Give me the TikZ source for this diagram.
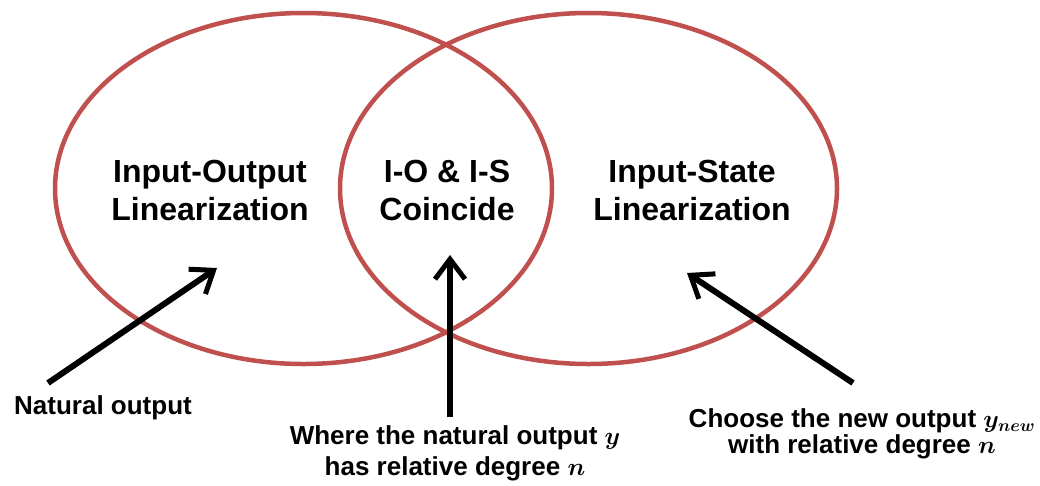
\documentclass[tikz,border=0pt]{standalone}
\usepackage{fontspec}
\setmainfont{Liberation Sans}
\usetikzlibrary{arrows.meta}
\definecolor{setred}{HTML}{C0504D}
\begin{document}
\begin{tikzpicture}[x=1pt,y=-1pt,
  setline/.style={draw=setred,line width=4.5pt},
  arr/.style={line width=6pt,-{Straight Barb[length=20pt,width=30pt,line width=5pt]}},
  lbl/.style={align=center,font=\bfseries\fontsize{32}{38}\selectfont,inner sep=0pt},
  note/.style={align=center,font=\bfseries\boldmath\fontsize{26}{31}\selectfont,inner sep=0pt}]
\useasboundingbox (0,0) rectangle (1040,485);
% the two overlapping sets
\draw[setline] (303.5,188.5) ellipse [x radius=248.5pt, y radius=175.5pt];
\draw[setline] (588.5,188.5) ellipse [x radius=248.5pt, y radius=175.5pt];
% set labels
\node[lbl] (io) at (210,190) {Input-Output\\Linearization};
\node[lbl] (both) at (447,190) {I-O \& I-S\\Coincide};
\node[lbl] (is) at (692,190) {Input-State\\Linearization};
% notes below
\node[note] (nat) at (103,408) {Natural output};
\node[note] (where) at (455,453) {Where the natural output $y$\\has relative degree $n$};
\node[note,font=\bfseries\boldmath\fontsize{26}{26}\selectfont] (choose) at (862,434) {Choose the new output $y_{new}$\\with relative degree $n$};
% arrow ends
\coordinate (a1s) at (48,383);
\coordinate (a1e) at (217,268);
\coordinate (a2s) at (450,417);
\coordinate (a2e) at (450,255);
\coordinate (a3s) at (853,383);
\coordinate (a3e) at (687,273);
\draw[arr] (a1s) -- (a1e);
\draw[arr] (a2s) -- (a2e);
\draw[arr] (a3s) -- (a3e);
\end{tikzpicture}
\end{document}
